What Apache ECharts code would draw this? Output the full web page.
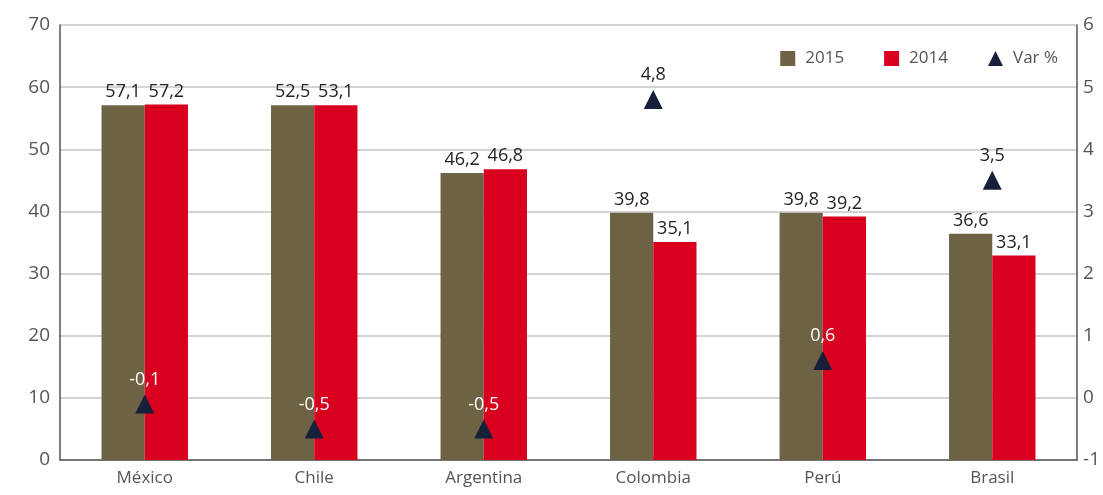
<!DOCTYPE html>
<html><head><meta charset="utf-8">
<script src="https://cdn.jsdelivr.net/npm/echarts@6/dist/echarts.min.js"></script>
<style>html,body{margin:0;padding:0;background:#fff}#c{width:1103px;height:495px}</style>
</head><body><div id="c"></div>
<script>
const categories = ['México','Chile','Argentina','Colombia','Perú','Brasil'];
const values2015 = [57.1, 57.1, 46.2, 39.8, 39.8, 36.4];
const values2014 = [57.2, 57.1, 46.8, 35.1, 39.2, 32.9];
const labels2015 = ['57,1','52,5','46,2','39,8','39,8','36,6'];
const labels2014 = ['57,2','53,1','46,8','35,1','39,2','33,1'];
const varPct = [-0.1, -0.5, -0.5, 4.8, 0.6, 3.5];
const varLabels = ['-0,1','-0,5','-0,5','4,8','0,6','3,5'];
const leftTicks = [0, 70, 10];
const rightTicks = [-1, 6, 1];

const FONT = '"Open Sans", "Noto Sans", sans-serif';
const chart = echarts.init(document.getElementById('c'));
chart.setOption({
  animation: false,
  textStyle: { fontFamily: FONT },
  grid: { left: 60, right: 22, top: 25, bottom: 35, containLabel: false },
  legend: {
    right: 40, top: 45, itemWidth: 15, itemHeight: 15, itemGap: 40,
    textStyle: { fontFamily: FONT, fontSize: 17, color: '#555', padding: [0, 0, 0, 5] },
    data: [
      { name: '2015', icon: 'rect' },
      { name: '2014', icon: 'rect' },
      { name: 'Var %', icon: 'triangle', itemStyle: { opacity: 1 } }
    ]
  },
  xAxis: {
    type: 'category', data: categories,
    axisLine: { lineStyle: { color: '#555', width: 1.5 } },
    axisTick: { show: false },
    axisLabel: { fontFamily: FONT, fontSize: 17, color: '#555', margin: 10 }
  },
  yAxis: [
    { type: 'value', min: leftTicks[0], max: leftTicks[1], interval: leftTicks[2],
      axisLine: { show: true, lineStyle: { color: '#555', width: 1.5 } },
      axisTick: { show: false },
      splitLine: { lineStyle: { color: '#c4c4c4', width: 1.5 } },
      axisLabel: { fontFamily: FONT, fontSize: 19, color: '#555', margin: 10 } },
    { type: 'value', min: rightTicks[0], max: rightTicks[1], interval: rightTicks[2],
      position: 'right',
      axisLine: { show: true, lineStyle: { color: '#555', width: 1.5 } },
      axisTick: { show: false },
      splitLine: { show: false },
      axisLabel: { fontFamily: FONT, fontSize: 19, color: '#555', margin: 6 } }
  ],
  series: [
    { name: '2015', type: 'bar', data: values2015, barGap: '0%', barCategoryGap: '49%',
      itemStyle: { color: '#6d6344' },
      label: { show: true, position: 'top', distance: 4, fontFamily: FONT, fontSize: 18, color: '#222',
        formatter: p => labels2015[p.dataIndex] } },
    { name: '2014', type: 'bar', data: values2014,
      itemStyle: { color: '#d9001f' },
      label: { show: true, position: 'top', distance: 4, fontFamily: FONT, fontSize: 18, color: '#222',
        formatter: p => labels2014[p.dataIndex] } },
    { name: 'Var %', type: 'scatter', yAxisIndex: 1, symbol: 'triangle', symbolSize: 19,
      itemStyle: { color: '#17203a', opacity: 1 },
      data: varPct.map((v, i) => ({ value: v,
        label: { color: (v > 3 ? '#222' : '#fff') } })),
      label: { show: true, position: 'top', distance: 6, fontFamily: FONT, fontSize: 18,
        formatter: p => varLabels[p.dataIndex] } }
  ]
});
</script></body></html>
